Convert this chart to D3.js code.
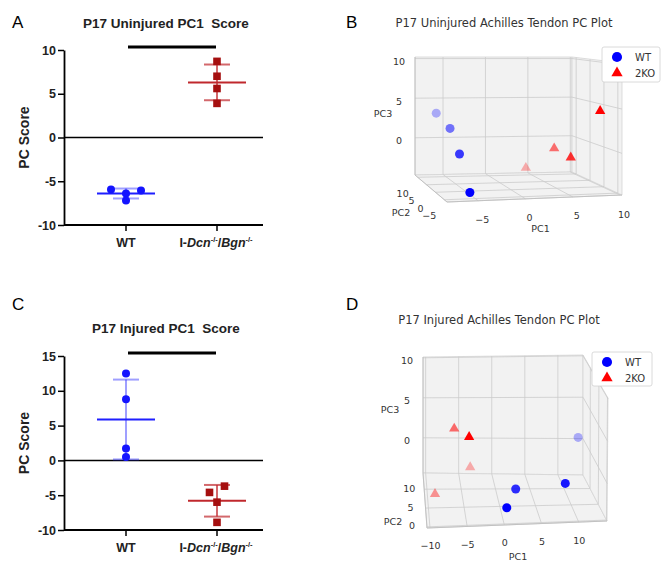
<!DOCTYPE html>
<html>
<head>
<meta charset="utf-8">
<script src="https://cdn.jsdelivr.net/npm/d3@7"></script>
<style>
  body { margin: 0; background: #fff; }
  text { white-space: pre; }
</style>
</head>
<body>
<svg width="662" height="562"></svg>
<script>
// ---- data ----
var groups = ["WT", "KO"];

// PC1 scores, dot plots
var uninjWT = [-5.94, -6.4, -7.2, -6.06];
var uninjKO = [8.7, 7.0, 5.6, 3.9];
var injWT = [12.5, 8.8, 1.7, 0.5];
var injKO = [-3.7, -4.6, -6.0, -8.9];

var yTicksA = [-10, -5, 0, 5, 10];
var yTicksC = [-10, -5, 0, 5, 10, 15];

// 3D PC plots
var bWT_pc1 = [-6.0, -5.6, -5.7, -5.7];
var bWT_pc2 = [10.6, 5.2, -0.2, -5.6];
var bWT_pc3 = [3.2, 2.0, -0.3, -3.9];
var bKO_pc1 = [4.5, 6.2, 6.5, 8.4];
var bKO_pc2 = [10.6, 5.2, -0.2, -4.7];
var bKO_pc3 = [-3.9, -0.7, -1.1, 4.7];

var dWT_pc1 = [12.7, 8.7, 2.1, 0.5];
var dWT_pc2 = [12.8, 2.6, 4.1, 1.2];
var dWT_pc3 = [0.7, -0.9, -2.0, -3.0];
var dKO_pc1 = [-8.9, -3.7, -6.3, -4.7];
var dKO_pc2 = [8.5, 9.9, 6.3, 0.4];
var dKO_pc3 = [-4.3, -1.7, 4.5, 5.8];

var bTicks = { pc1: [-5, 0, 5, 10], pc2: [-5, 0, 5, 10], pc3: [0, 5, 10] };
var dTicks = { pc1: [-10, -5, 0, 5, 10], pc2: [0, 5, 10], pc3: [0, 5, 10] };

var svg = d3.select("svg");
var boldFont = "'Liberation Sans', Arial, sans-serif";
var mplFont = "'DejaVu Sans', sans-serif";

var wtCol = "#1414ff", koCol = "#a50f0f";

// panel letters
[["A", 12, 28], ["B", 346, 28], ["C", 12, 310], ["D", 346, 310]].forEach(function(l) {
  svg.append("text").attr("x", l[1]).attr("y", l[2])
    .attr("font-family", boldFont).attr("font-size", 17).text(l[0]);
});

// ---------- dot plots (A, C) ----------
function dotPlot(opt) {
  var g = svg.append("g");
  var y = d3.scaleLinear().domain(opt.domain).range(opt.range);
  var x = d3.scalePoint().domain(groups).range([126, 217]);
  var left = 64, right = 263;

  g.append("text")
    .attr("x", opt.titleX).attr("y", opt.titleY)
    .attr("font-family", boldFont).attr("font-weight", "bold").attr("font-size", 13.5)
    .attr("fill", "#222")
    .text(opt.title);

  // significance bar
  g.append("line")
    .attr("x1", x("WT") + 2).attr("x2", x("KO") - 1)
    .attr("y1", y.range()[1] - 3).attr("y2", y.range()[1] - 3)
    .attr("stroke", "#000").attr("stroke-width", 3);

  var ya = g.append("g")
    .attr("transform", "translate(" + left + ",0)")
    .call(d3.axisLeft(y).tickValues(opt.ticks).tickSize(6).tickSizeOuter(0).tickPadding(2)
      .tickFormat(function(d) { return String(d); }));
  ya.select(".domain").attr("stroke-width", 1.8);
  ya.selectAll(".tick line").attr("stroke-width", 1.5);
  ya.selectAll("text").attr("font-family", boldFont).attr("font-weight", "bold")
    .attr("font-size", 12.5).attr("fill", "#222");

  var yb = y.range()[0];
  g.append("line").attr("x1", left).attr("x2", right).attr("y1", yb).attr("y2", yb)
    .attr("stroke", "#000").attr("stroke-width", 1.8);
  g.append("line").attr("x1", left).attr("x2", right).attr("y1", y(0)).attr("y2", y(0))
    .attr("stroke", "#000").attr("stroke-width", 1.5);

  groups.forEach(function(k) {
    g.append("line").attr("x1", x(k)).attr("x2", x(k)).attr("y1", yb).attr("y2", yb + 6)
      .attr("stroke", "#000").attr("stroke-width", 1.5);
  });

  var lab = g.append("g").attr("font-family", boldFont).attr("font-weight", "bold")
    .attr("font-size", 12.5).attr("fill", "#222").attr("text-anchor", "middle");
  lab.append("text").attr("x", x("WT")).attr("y", yb + 22).text("WT");
  var t = lab.append("text").attr("x", x("KO") - 1).attr("y", yb + 22);
  t.append("tspan").text("I-");
  t.append("tspan").attr("font-style", "italic").text("Dcn");
  t.append("tspan").attr("font-size", 7.5).attr("dy", -5).text("-/-");
  t.append("tspan").attr("dy", 5).text("/");
  t.append("tspan").attr("font-style", "italic").text("Bgn");
  t.append("tspan").attr("font-size", 7.5).attr("dy", -5).text("-/-");

  g.append("text")
    .attr("transform", "translate(29," + d3.mean(y.range()) + ") rotate(-90)")
    .attr("text-anchor", "middle")
    .attr("font-family", boldFont).attr("font-weight", "bold").attr("font-size", 14)
    .attr("fill", "#222")
    .text("PC Score");

  var sets = [
    { key: "WT", vals: opt.wt, col: wtCol, sdCol: "#2a2aff", sdOp: 0.45, jit: opt.jitWT },
    { key: "KO", vals: opt.ko, col: koCol, sdCol: "#c0282d", sdOp: 0.7, jit: opt.jitKO }
  ];
  sets.forEach(function(s) {
    var cx = x(s.key);
    var m = d3.mean(s.vals), sd = d3.deviation(s.vals);
    var eb = g.append("g").attr("stroke", s.sdCol).attr("stroke-opacity", s.sdOp).attr("stroke-width", 2);
    eb.append("line").attr("x1", cx).attr("x2", cx).attr("y1", y(m - sd)).attr("y2", y(m + sd));
    [m - sd, m + sd].forEach(function(v) {
      eb.append("line").attr("x1", cx - 13).attr("x2", cx + 13).attr("y1", y(v)).attr("y2", y(v));
    });
    g.append("line").attr("x1", cx - 29).attr("x2", cx + 29).attr("y1", y(m)).attr("y2", y(m))
      .attr("stroke", s.key == "WT" ? "#1f1fff" : "#c0282d").attr("stroke-width", 2);

    s.vals.forEach(function(v, i) {
      var px = cx + s.jit[i] * 7.5;
      if (s.key == "WT") {
        g.append("circle").attr("cx", px).attr("cy", y(v)).attr("r", 4).attr("fill", s.col);
      } else {
        g.append("rect").attr("x", px - 3.8).attr("y", y(v) - 3.8).attr("width", 7.6).attr("height", 7.6)
          .attr("fill", s.col);
      }
    });
  });
}

dotPlot({ title: "P17 Uninjured PC1  Score", titleX: 83, titleY: 28,
  domain: [-10, 10], range: [225, 50], ticks: yTicksA,
  wt: uninjWT, ko: uninjKO, jitWT: [-2, 0, 0, 2], jitKO: [0, 0, 0, 0] });

dotPlot({ title: "P17 Injured PC1  Score", titleX: 92, titleY: 333,
  domain: [-10, 15], range: [530, 356], ticks: yTicksC,
  wt: injWT, ko: injKO, jitWT: [0, 0, 0, 0], jitKO: [1, -1, 0, 0] });

// ---------- 3D scatter (B, D) ----------
function lerp(a, b, t) { return [a[0] + (b[0] - a[0]) * t, a[1] + (b[1] - a[1]) * t]; }

function plot3d(opt) {
  var g = svg.append("g");
  var c = opt.corners;
  var sx = d3.scaleLinear().domain(opt.x).range([0, 1]);
  var sd = d3.scaleLinear().domain([opt.y[1], opt.y[0]]).range([0, 1]); // 0 = back
  var sz = d3.scaleLinear().domain(opt.z).range([0, 1]);

  function plane(bl, br, tl, tr, fx, fz) {
    return lerp(lerp(bl, br, fx), lerp(tl, tr, fx), fz);
  }
  function proj(p1, p2, p3) {
    var fx = sx(p1), d = sd(p2), fz = sz(p3);
    var b = plane(c.bbl, c.bbr, c.btl, c.btr, fx, fz);
    var f = plane(c.fbl, c.fbr, c.ftl, c.ftr, fx, fz);
    return lerp(b, f, d);
  }
  var x0 = opt.x[0], x1 = opt.x[1], y0 = opt.y[0], y1 = opt.y[1], z0 = opt.z[0], z1 = opt.z[1];
  var line = d3.line();

  g.append("text").attr("x", opt.titleX).attr("y", opt.titleY)
    .attr("text-anchor", "middle").attr("dominant-baseline", "central")
    .attr("font-family", mplFont).attr("font-size", 11.5).attr("fill", "#333").text(opt.title);

  // panes: back wall, floor, right wall
  var panes = [
    [[x0, y1, z0], [x1, y1, z0], [x1, y1, z1], [x0, y1, z1]],
    [[x0, y0, z0], [x1, y0, z0], [x1, y1, z0], [x0, y1, z0]],
    [[x1, y0, z0], [x1, y1, z0], [x1, y1, z1], [x1, y0, z1]]
  ];
  panes.forEach(function(p) {
    g.append("path").attr("d", line(p.map(function(q) { return proj(q[0], q[1], q[2]); })) + "Z")
      .attr("fill", "#f2f2f2").attr("stroke", "#d4d4d4").attr("stroke-width", 0.8);
  });

  var grid = [];
  opt.ticks.pc1.forEach(function(v) {
    grid.push([[v, y1, z0], [v, y1, z1]]);
    grid.push([[v, y1, z0], [v, y0, z0]]);
  });
  opt.ticks.pc2.forEach(function(v) {
    grid.push([[x0, v, z0], [x1, v, z0]]);
    grid.push([[x1, v, z0], [x1, v, z1]]);
  });
  opt.ticks.pc3.forEach(function(v) {
    grid.push([[x0, y1, v], [x1, y1, v]]);
    grid.push([[x1, y1, v], [x1, y0, v]]);
  });
  grid.forEach(function(s) {
    g.append("path").attr("d", line(s.map(function(q) { return proj(q[0], q[1], q[2]); })))
      .attr("fill", "none").attr("stroke", "#cbcbcb").attr("stroke-width", 0.8);
  });

  // axis lines
  [[[x0, y0, z0], [x1, y0, z0]], [[x0, y0, z0], [x0, y1, z0]], [[x0, y1, z0], [x0, y1, z1]]].forEach(function(s) {
    g.append("path").attr("d", line(s.map(function(q) { return proj(q[0], q[1], q[2]); })))
      .attr("fill", "none").attr("stroke", "#bdbdbd").attr("stroke-width", 0.9);
  });

  var tg = g.append("g").attr("font-family", mplFont).attr("font-size", 9.5).attr("fill", "#333")
    .attr("text-anchor", "middle").attr("dominant-baseline", "central");
  function fmt(v) { return v < 0 ? "\u2212" + Math.abs(v) : "" + v; }
  function label(p, off, txt) {
    tg.append("text").attr("x", p[0] + off[0]).attr("y", p[1] + off[1]).text(txt);
  }
  opt.ticks.pc1.forEach(function(v) { label(proj(v, y0, z0), opt.off.pc1, fmt(v)); });
  opt.ticks.pc2.forEach(function(v) { label(proj(x0, v, z0), opt.off.pc2, fmt(v)); });
  opt.ticks.pc3.forEach(function(v) { label(proj(x0, y1, v), opt.off.pc3, fmt(v)); });
  label(proj((x0 + x1) / 2, y0, z0), opt.off.t1, "PC1");
  label(proj(x0, (y0 + y1) / 2, z0), opt.off.t2, "PC2");
  label(proj(x0, y1, (z0 + z1) / 2), opt.off.t3, "PC3");

  // points, depth-shaded like matplotlib
  var series = [
    { p1: opt.wt[0], p2: opt.wt[1], p3: opt.wt[2], col: "#0000ff", sym: d3.symbolCircle, size: 64 },
    { p1: opt.ko[0], p2: opt.ko[1], p3: opt.ko[2], col: "#ff0000", sym: d3.symbolTriangle, size: 46 }
  ];
  series.forEach(function(s) {
    var pts = s.p1.map(function(v, i) { return { p1: v, p2: s.p2[i], p3: s.p3[i], d: sd(s.p2[i]) }; });
    var ext = d3.extent(pts, function(p) { return p.d; });
    pts.sort(function(a, b) { return a.d - b.d; });
    pts.forEach(function(p) {
      var a = 1 - 0.7 * (ext[1] - p.d) / (ext[1] - ext[0]);
      var q = proj(p.p1, p.p2, p.p3);
      g.append("path").attr("d", d3.symbol(s.sym, s.size)())
        .attr("transform", "translate(" + q[0] + "," + q[1] + ")")
        .attr("fill", s.col).attr("fill-opacity", a);
    });
  });

  // legend
  var L = opt.legend;
  var lg = g.append("g").attr("transform", "translate(" + L[0] + "," + L[1] + ")");
  lg.append("rect").attr("width", L[2]).attr("height", L[3]).attr("rx", 2)
    .attr("fill", "#fff").attr("stroke", "#d0d0d0").attr("stroke-width", 0.8);
  [["WT", "#0000ff", d3.symbolCircle, 80], ["2KO", "#ff0000", d3.symbolTriangle, 55]].forEach(function(e, i) {
    var yy = 10 + i * 16;
    lg.append("path").attr("d", d3.symbol(e[2], e[3])())
      .attr("transform", "translate(15," + yy + ")").attr("fill", e[1]);
    lg.append("text").attr("x", 33).attr("y", yy).attr("dominant-baseline", "central")
      .attr("font-family", mplFont).attr("font-size", 10).attr("fill", "#333").text(e[0]);
  });
}

plot3d({
  title: "P17 Uninjured Achilles Tendon PC Plot", titleX: 504, titleY: 23,
  corners: { bbl: [415, 175], bbr: [572, 172], btl: [415, 57], btr: [572, 57],
             fbl: [447, 202], fbr: [622, 195], ftl: [447, 68], ftr: [622, 63] },
  x: [-8.3, 10.2], y: [-6.5, 11.5], z: [-4.7, 10.2],
  ticks: bTicks,
  off: { pc1: [4, 19], pc2: [-15, 16], pc3: [-16, 3], t1: [6, 30], t2: [-30, 24], t3: [-32, -3] },
  wt: [bWT_pc1, bWT_pc2, bWT_pc3], ko: [bKO_pc1, bKO_pc2, bKO_pc3],
  legend: [602, 47, 58, 35]
});

plot3d({
  title: "P17 Injured Achilles Tendon PC Plot", titleX: 499, titleY: 320,
  corners: { bbl: [423, 473], bbr: [583, 475], btl: [423, 357], btr: [583, 355],
             fbl: [427, 528], fbr: [607, 521], ftl: [427, 404], ftr: [608, 398] },
  x: [-10.4, 13.8], y: [-0.3, 14.3], z: [-4.4, 10.1],
  ticks: dTicks,
  off: { pc1: [0.5, 18], pc2: [-15, -1], pc3: [-16, 3], t1: [1, 32], t2: [-32, 21], t3: [-33, -6] },
  wt: [dWT_pc1, dWT_pc2, dWT_pc3], ko: [dKO_pc1, dKO_pc2, dKO_pc3],
  legend: [592, 352, 60, 34]
});
</script>
</body>
</html>
